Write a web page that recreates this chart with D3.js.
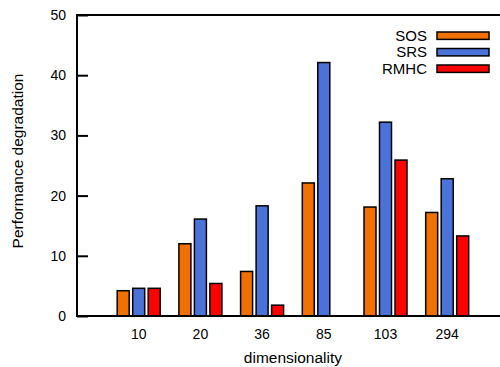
<!DOCTYPE html>
<html>
<head>
<meta charset="utf-8">
<script src="https://cdn.jsdelivr.net/npm/d3@7"></script>
<style>
  body { margin: 0; background: #fff; }
  text { font-family: "Liberation Sans", Arial, sans-serif; fill: #000; }
</style>
</head>
<body>
<div id="chart"></div>
<script>
// data
const categories = ['10', '20', '36', '85', '103', '294'];
const seriesNames = ['SOS', 'SRS', 'RMHC'];
const sos  = [4.2, 12.0, 7.4, 22.1, 18.1, 17.2];
const srs  = [4.6, 16.1, 18.3, 42.1, 32.2, 22.8];
const rmhc = [4.6, 5.4, 1.8, null, 25.9, 13.3];
const yTicks = [0, 10, 20, 30, 40, 50];

const colors = ['#f07000', '#4a72d8', '#ff0000'];
const series = [sos, srs, rmhc];

const width = 500, height = 367;
const margin = {top: 15, left: 77, bottom: 51};
const plotBottom = height - margin.bottom;

const svg = d3.select('#chart').append('svg')
  .attr('width', width).attr('height', height);

// x as index scale, gnuplot-like range [-1, 6]
const x = d3.scaleLinear().domain([-1, 6]).range([margin.left, margin.left + 7 * 61.7]);
const y = d3.scaleLinear().domain([0, 50]).range([plotBottom, margin.top]);

const barW = 12, step = 15.5;

// bars
series.forEach((vals, s) => {
  svg.append('g').selectAll('rect')
    .data(vals.map((v, i) => ({v, i})).filter(d => d.v != null))
    .join('rect')
    .attr('x', d => x(d.i) + (s - 1) * step - barW / 2)
    .attr('y', d => y(d.v))
    .attr('width', barW)
    .attr('height', d => y(0) - y(d.v))
    .attr('fill', colors[s])
    .attr('stroke', '#000')
    .attr('stroke-width', 1.5);
});

// y axis with inward ticks
const yAxis = svg.append('g')
  .attr('transform', `translate(${margin.left},0)`)
  .call(d3.axisRight(y).tickValues(yTicks).tickSize(11).tickFormat(''));
yAxis.select('.domain').remove();
yAxis.selectAll('line').attr('stroke', '#000').attr('stroke-width', 2);

svg.append('g').selectAll('text')
  .data(yTicks).join('text')
  .attr('x', margin.left - 11)
  .attr('y', d => y(d))
  .attr('dy', '0.35em')
  .attr('text-anchor', 'end')
  .style('font-size', '14px')
  .text(d => d);

// x labels
svg.append('g').selectAll('text')
  .data(categories).join('text')
  .attr('x', (d, i) => x(i))
  .attr('y', plotBottom + 18)
  .attr('dy', '0.35em')
  .attr('text-anchor', 'middle')
  .style('font-size', '14px')
  .text(d => d);

// border: left, bottom, top
svg.append('path')
  .attr('d', `M${width},${margin.top}H${margin.left}V${plotBottom}H${width}`)
  .attr('fill', 'none').attr('stroke', '#000').attr('stroke-width', 2);

// axis titles
svg.append('text')
  .attr('x', x(2.5)).attr('y', 363)
  .attr('text-anchor', 'middle')
  .style('font-size', '15.5px')
  .text('dimensionality');

svg.append('text')
  .attr('transform', 'translate(18,161) rotate(-90)')
  .attr('dy', '0.35em')
  .attr('text-anchor', 'middle')
  .style('font-size', '15.5px')
  .text('Performance degradation');

// legend
const legend = svg.append('g');
seriesNames.forEach((name, s) => {
  const cy = 35.7 + s * 16.5;
  legend.append('rect')
    .attr('x', 437).attr('y', cy - 3.7)
    .attr('width', 52).attr('height', 7.4)
    .attr('fill', colors[s]).attr('stroke', '#000').attr('stroke-width', 1.5);
  legend.append('text')
    .attr('x', 427).attr('y', cy)
    .attr('dy', '0.35em')
    .attr('text-anchor', 'end')
    .style('font-size', '15px')
    .text(name);
});
</script>
</body>
</html>
